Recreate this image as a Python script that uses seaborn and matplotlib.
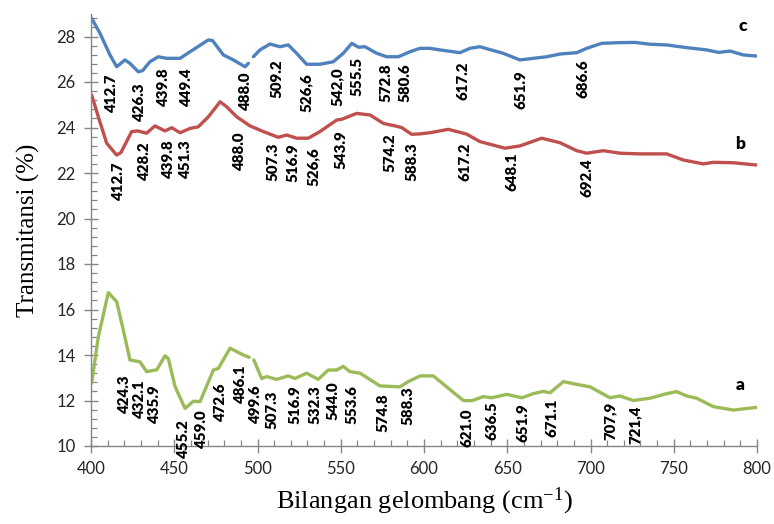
import numpy as np
import pandas as pd
import matplotlib
matplotlib.use("Agg")
import matplotlib.pyplot as plt
from matplotlib.ticker import MultipleLocator
import seaborn as sns

# ---------------- data ----------------
wn_c = [400.4, 405.4, 411.4, 415.4, 420.4, 423.4, 428.4, 431.0, 435.4, 440.4, 445.5, 453.5, 459.5,
        470.5, 473.0, 479.5, 485.5, 492.5, 494.5, 496.0, 497.5, 501.5, 507.5, 513.5, 518.5, 523.5,
        529.5, 537.5, 545.5, 551.5, 556.6, 560.6, 564.6, 571.6, 577.6, 584.6, 591.6, 597.6, 603.6,
        609.6, 621.6, 627.6, 633.6, 647.6, 657.6, 665.6, 673.7, 681.7, 691.7, 697.7, 706.7, 717.7,
        726.7, 735.7, 745.7, 757.8, 769.8, 777.0, 783.8, 791.8, 799.8]
tr_c = [28.80, 28.14, 27.19, 26.67, 26.97, 26.82, 26.45, 26.50, 26.89, 27.11, 27.04, 27.04, 27.33,
        27.85, 27.82, 27.19, 26.97, 26.67, 26.82, np.nan, 27.11, 27.41, 27.67, 27.55, 27.63, 27.26,
        26.78, 26.78, 26.89, 27.26, 27.70, 27.53, 27.55, 27.26, 27.11, 27.11, 27.33, 27.48, 27.48,
        27.41, 27.29, 27.48, 27.55, 27.26, 26.97, 27.04, 27.11, 27.23, 27.29, 27.48, 27.70, 27.73,
        27.74, 27.66, 27.63, 27.51, 27.41, 27.30, 27.36, 27.19, 27.14]

wn_b = [400.4, 404.4, 409.4, 415.4, 418.0, 424.4, 428.0, 433.4, 438.4, 444.4, 448.5, 453.5, 459.5,
        464.4, 470.5, 477.5, 481.5, 487.5, 495.5, 503.5, 512.5, 517.5, 523.5, 530.5, 537.5, 547.6,
        550.5, 559.6, 567.6, 575.6, 582.6, 586.5, 592.6, 597.6, 603.6, 614.6, 625.6, 633.6, 648.6,
        657.6, 670.7, 681.7, 691.7, 697.7, 707.7, 717.7, 729.7, 745.7, 755.8, 767.8, 773.8, 785.8,
        799.8]
tr_b = [25.43, 24.47, 23.31, 22.79, 22.90, 23.82, 23.85, 23.75, 24.07, 23.85, 23.99, 23.77, 23.96,
        24.03, 24.47, 25.13, 24.91, 24.47, 24.07, 23.82, 23.57, 23.67, 23.53, 23.53, 23.82, 24.33,
        24.36, 24.62, 24.55, 24.18, 24.07, 24.00, 23.70, 23.72, 23.77, 23.92, 23.71, 23.38, 23.09,
        23.19, 23.53, 23.33, 22.98, 22.87, 22.98, 22.87, 22.84, 22.84, 22.57, 22.40, 22.47, 22.45,
        22.35]

wn_a = [400.4, 404.4, 410.4, 415.4, 419.4, 423.4, 429.4, 433.4, 439.5, 444.4, 446.4, 450.5, 456.5,
        461.5, 465.5, 473.5, 476.5, 483.5, 491.5, 495.0, 496.5, 497.8, 502.5, 505.5, 511.5, 518.5,
        522.5, 529.5, 536.5, 542.5, 547.6, 551.5, 555.5, 561.6, 573.6, 585.6, 590.6, 597.6, 605.6,
        613.6, 623.6, 628.6, 635.6, 640.7, 649.7, 658.7, 665.6, 671.6, 675.7, 683.7, 691.7, 699.7,
        711.7, 717.7, 725.7, 735.7, 745.7, 751.7, 757.8, 763.8, 773.8, 785.8, 799.8]
tr_a = [12.77, 14.80, 16.74, 16.35, 15.10, 13.78, 13.70, 13.27, 13.35, 13.96, 13.85, 12.61, 11.65,
        11.97, 11.95, 13.34, 13.41, 14.30, 14.00, 13.90, np.nan, 13.78, 12.97, 13.05, 12.93, 13.08,
        12.97, 13.20, 12.93, 13.34, 13.34, 13.50, 13.27, 13.20, 12.64, 12.60, 12.83, 13.08, 13.08,
        12.60, 12.00, 11.99, 12.17, 12.12, 12.27, 12.12, 12.30, 12.40, 12.34, 12.83, 12.71, 12.60,
        12.12, 12.20, 12.00, 12.10, 12.30, 12.39, 12.20, 12.10, 11.73, 11.58, 11.70]

samples = ["c", "b", "a"]
colors = {"c": "#4F81BD", "b": "#C0504D", "a": "#9BBB59"}

# peak labels: text, x position, y (top of text)
labels_c = ["412.7", "426.3", "439.8", "449.4", "488.0", "509.2", "526,6", "542,0", "555.5",
            "572.8", "580.6", "617.2", "651.9", "686.6"]
lx_c = [412.4, 429.4, 443.4, 457.1, 492.9, 511.5, 529.1, 547.6, 559.6, 577.2, 588.6, 623.2, 658.1, 695.7]
ly_c = [26.31, 25.96, 26.62, 26.62, 26.40, 27.01, 26.40, 26.66, 27.10, 26.84, 26.84, 26.88, 26.53, 27.01]

labels_b = ["412.7", "428.2", "439.8", "451.3", "488.0", "507.3", "516.9", "526,6", "543.9",
            "574.2", "588.3", "617.2", "648.1", "692.4"]
lx_b = [416.4, 432.4, 446.4, 456.5, 489.1, 509.1, 521.5, 533.5, 550.0, 579.6, 592.6, 624.6, 652.7, 697.7]
ly_b = [22.48, 23.36, 23.45, 23.45, 23.80, 23.32, 23.32, 23.14, 23.89, 23.76, 23.36, 23.32, 22.92, 22.66]

labels_a = ["424.3", "432.1", "435.9", "455.2", "459.0", "472.6", "486.1", "499.6", "507.3",
            "516.9", "532.3", "544.0", "553.6", "574.8", "588.3", "621.0", "636.5", "651.9",
            "671.1", "707,9", "721,4"]
lx_a = [420.4, 429.4, 438.4, 455.4, 466.5, 477.5, 489.5, 499.1, 508.5, 522.5, 534.5, 545.5, 556.6,
        575.6, 590.6, 625.6, 640.7, 659.7, 676.7, 711.7, 726.7]
ly_a = [13.12, 12.90, 12.68, 11.14, 11.58, 12.76, 13.56, 12.68, 12.46, 12.68, 12.68, 12.83, 12.68,
        12.33, 12.61, 11.66, 11.95, 11.88, 12.10, 11.95, 11.80]

curve_names = ["c", "b", "a"]
curve_name_pos = [(791.6, 28.46), (789.8, 23.27), (790.2, 12.68)]

x_ticks = [400, 450, 500, 550, 600, 650, 700, 750, 800]
y_ticks = [10, 12, 14, 16, 18, 20, 22, 24, 26, 28]

# ---------------- build long table ----------------
frames = []
for name, wn, tr in [("c", wn_c, tr_c), ("b", wn_b, tr_b), ("a", wn_a, tr_a)]:
    d = pd.DataFrame({"wn": wn, "tr": tr})
    d["seg"] = d["tr"].isna().cumsum()
    d = d.dropna()
    d["sample"] = name
    d["unit"] = name + d["seg"].astype(str)
    frames.append(d)
df = pd.concat(frames, ignore_index=True)

# ---------------- plot ----------------
sns.set_style("ticks")
plt.rcParams["mathtext.fontset"] = "custom"
plt.rcParams["mathtext.rm"] = "Liberation Serif"

fig = plt.figure(figsize=(7.74, 5.24), dpi=100)
ax = fig.add_axes([91 / 774, 78 / 524, (757 - 91) / 774, (446 - 13.75) / 524])

sns.lineplot(data=df, x="wn", y="tr", hue="sample", units="unit", estimator=None,
             sort=False, palette=colors, linewidth=2.4, legend=False, ax=ax)

ax.set_xlim(400, 800)
ax.set_ylim(10, 29)
ax.set_xticks(x_ticks)
ax.set_yticks(y_ticks)
ax.xaxis.set_minor_locator(MultipleLocator(10))
ax.yaxis.set_minor_locator(MultipleLocator(0.4))

grey = "#868686"
for s in ["top", "right"]:
    ax.spines[s].set_visible(False)
for s in ["left", "bottom"]:
    ax.spines[s].set_color(grey)
    ax.spines[s].set_linewidth(1.0)
ax.tick_params(which="major", direction="inout", length=10, width=1.0, color=grey,
               labelsize=12, labelcolor="#262626", pad=6)
ax.tick_params(which="minor", direction="in", length=4, width=0.9, color=grey)
for lab in ax.get_xticklabels() + ax.get_yticklabels():
    lab.set_fontfamily(["Lato", "DejaVu Sans"])

ax.set_xlabel(r"Bilangan gelombang (cm$\mathregular{^{-1}}$)", fontsize=19,
              family="Liberation Serif", color="black", labelpad=6)
ax.set_ylabel("Transmitansi (%)", fontsize=18, family="Liberation Serif",
              color="black", labelpad=12)

for labs, xs, ys in [(labels_c, lx_c, ly_c), (labels_b, lx_b, ly_b), (labels_a, lx_a, ly_a)]:
    for t, x, y in zip(labs, xs, ys):
        ax.text(x, y, t, rotation=90, ha="center", va="top", fontsize=10.8,
                fontweight="heavy", family=["Lato", "DejaVu Sans"], color="black",
                clip_on=False, zorder=5)

for n, (x, y) in zip(curve_names, curve_name_pos):
    ax.text(x, y, n, ha="center", va="center", fontsize=12.5, fontweight="heavy",
            family=["Lato", "DejaVu Sans"], color="black")

fig.savefig("out.png", dpi=100)
